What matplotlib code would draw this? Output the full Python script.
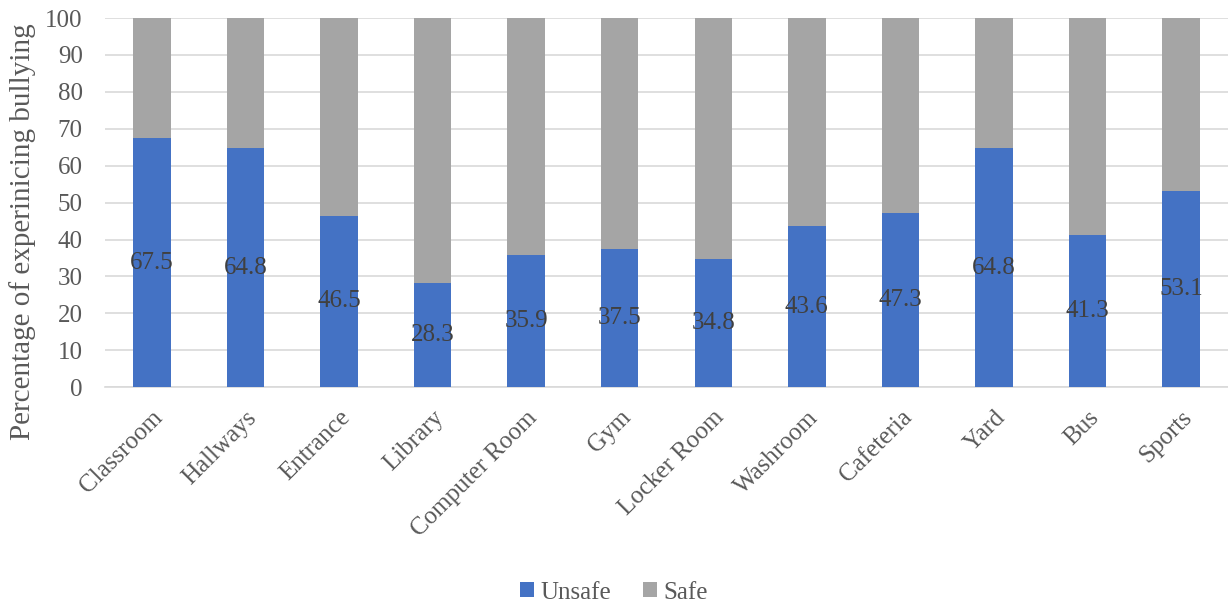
import numpy as np
import matplotlib.pyplot as plt

plt.rcParams['font.family'] = ['Liberation Serif', 'DejaVu Serif']

places = ['Classroom', 'Hallways', 'Entrance', 'Library', 'Computer Room', 'Gym',
          'Locker Room', 'Washroom', 'Cafeteria', 'Yard', 'Bus', 'Sports']
unsafe = [67.5, 64.8, 46.5, 28.3, 35.9, 37.5, 34.8, 43.6, 47.3, 64.8, 41.3, 53.1]
safe = [round(100 - u, 1) for u in unsafe]

blue = '#4472C4'
grey = '#A5A5A5'
text_col = '#595959'

fig = plt.figure(figsize=(12.28, 6.03), dpi=100)
ax = fig.add_axes([0.0855, 0.358, 0.9145, 0.612])

x = np.arange(len(places))
width = 0.4
b1 = ax.bar(x, unsafe, width, color=blue, label='Unsafe', zorder=3)
b2 = ax.bar(x, safe, width, bottom=unsafe, color=grey, label='Safe', zorder=3)
ax.bar_label(b1, labels=[f'{v:.1f}' for v in unsafe], label_type='center',
             fontsize=18, color='#404040')

ax.set_xlim(-0.5, len(places) - 0.5)
ax.set_ylim(0, 100)
ax.set_yticks(range(0, 101, 10))
ax.yaxis.grid(True, color='#D9D9D9', linewidth=1.2, zorder=0)
ax.set_axisbelow(True)
for s in ['top', 'right', 'left']:
    ax.spines[s].set_visible(False)
ax.spines['bottom'].set_color('#D9D9D9')
ax.spines['bottom'].set_linewidth(1.2)
ax.tick_params(axis='both', length=0, labelsize=18, labelcolor=text_col)
ax.tick_params(axis='y', pad=16)
ax.tick_params(axis='x', pad=14)

ax.set_xticks(x, places, rotation=45, ha='right', rotation_mode='anchor')
fig.text(0.018, 0.615, 'Percentage of experinicing bullying', rotation=90,
         ha='center', va='center', fontsize=21, color=text_col)

fig.legend(handles=[b1, b2], loc='center', bbox_to_anchor=(0.5, 0.017), ncols=2,
           frameon=False, fontsize=18, handlelength=0.55, handleheight=0.55,
           columnspacing=1.3, handletextpad=0.25, labelcolor=text_col)

fig.savefig('out.png', dpi=100)
